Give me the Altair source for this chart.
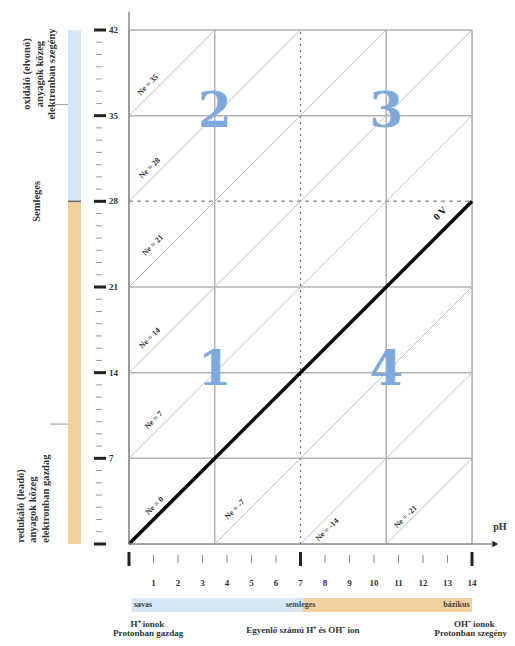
import altair as alt
import pandas as pd

# ---------------- data ----------------
ne_values = [35, 28, 21, 14, 7, 0, -7, -14, -21]
ne_x1 = [0, 0, 0, 0, 0, 0, 3.5, 7, 10.5]
ne_y1 = [35, 28, 21, 14, 7, 0, 0, 0, 0]
ne_x2 = [3.5, 7, 10.5, 14, 14, 14, 14, 14, 14]
ne_y2 = [42, 42, 42, 42, 35, 28, 21, 14, 7]
ne_lab_x = [0.78, 0.86, 0.98, 0.86, 1.02, 1.06, 4.33, 8.1, 11.3]
ne_lab_y = [37.5, 30.7, 24.4, 16.8, 10.1, 3.1, 2.8, 1.15, 2.2]

solid_v = [0, 3.5, 10.5, 14]
dashed_v = [7]
solid_h = [7, 14, 21, 35, 42]
dashed_h = [28]

y_major = [0, 7, 14, 21, 28, 35, 42]
y_minor = [1, 2, 3, 4, 5, 6, 8, 9, 10, 11, 12, 13, 15, 16, 17, 18, 19, 20,
           22, 23, 24, 25, 26, 27, 29, 30, 31, 32, 33, 34, 36, 37, 38, 39, 40, 41]
y_label_vals = [7, 14, 21, 28, 35, 42]
y_label_txt = ["7", "14", "21", "28", "35", "42"]

x_major = [0, 7, 14]
x_minor = [1, 2, 3, 4, 5, 6, 8, 9, 10, 11, 12, 13]
x_label_vals = [1, 2, 3, 4, 5, 6, 7, 8, 9, 10, 11, 12, 13, 14]
x_label_txt = ["1", "2", "3", "4", "5", "6", "7", "8", "9", "10", "11", "12", "13", "14"]

zone_names = ["redukáló", "oxidáló"]
zone_y1 = [0, 28]
zone_y2 = [28, 42]
ph_zone_names = ["savas", "lúgos"]
ph_zone_x1 = [0.1, 7.1]
ph_zone_x2 = [7.1, 14]

region_txt = ["1", "2", "3", "4"]
region_x = [3.5, 3.5, 10.5, 10.5]
region_y = [14.1, 35.2, 35.2, 14.1]

top_lines = ["oxidáló (elvonó)", "anyagok közeg", "elektronban szegény"]
mid_line = "Semleges"
bot_lines = ["redukáló (leadó)", "anyagok közeg", "elektronban gazdag"]
bar_words = ["savas", "semleges", "bázikus"]
bar_word_x = [0.2, 7.0, 13.9]
bottom_words = ["H⁺ ionok", "Protonban gazdag", "Egyenlő számú H⁺ és OH⁻ ion",
                "OH⁻ ionok", "Protonban szegény"]
bottom_word_x = [0.75, 0.78, 7.1, 14.1, 13.95]

BLUE = "#d6e8f5"
ORANGE = "#f0d19f"
NUM = "#7fa8dc"
TXT = "#333333"
FONT = "Liberation Serif"

xs = alt.Scale(domain=[0, 14], nice=False, zero=False)
ys = alt.Scale(domain=[0, 42], nice=False, zero=False)


def X(f):
    return alt.X(f, type="quantitative", scale=xs, axis=None)


def Y(f):
    return alt.Y(f, type="quantitative", scale=ys, axis=None)


# grid
grid = pd.DataFrame(
    [{"x1": v, "x2": v, "y1": 0, "y2": 42} for v in solid_v]
    + [{"x1": 0, "x2": 14, "y1": h, "y2": h} for h in solid_h]
)
grid_l = alt.Chart(grid).mark_rule(color="#b3b3b3", strokeWidth=1.5).encode(
    x=X("x1"), x2="x2", y=Y("y1"), y2="y2")

dv = pd.DataFrame([{"x1": v, "x2": v, "y1": 0, "y2": 42} for v in dashed_v])
dv_l = alt.Chart(dv).mark_rule(color="#777777", strokeWidth=1.3, strokeDash=[2, 4]).encode(
    x=X("x1"), x2="x2", y=Y("y1"), y2="y2")
dh = pd.DataFrame([{"x1": 0, "x2": 14, "y1": h, "y2": h} for h in dashed_h])
dh_l = alt.Chart(dh).mark_rule(color="#999999", strokeWidth=1.5, strokeDash=[4, 4]).encode(
    x=X("x1"), x2="x2", y=Y("y1"), y2="y2")

ne = pd.DataFrame({"nev": ne_values, "x1": ne_x1, "y1": ne_y1, "x2": ne_x2, "y2": ne_y2,
                   "lx": ne_lab_x, "ly": ne_lab_y})
ne["label"] = ["Ne = " + str(v) for v in ne_values]
diag_l = alt.Chart(ne[ne["nev"] != 0]).mark_rule(color="#bdbdbd", strokeWidth=1).encode(
    x=X("x1"), x2="x2", y=Y("y1"), y2="y2")
bold_l = alt.Chart(ne[ne["nev"] == 0]).mark_rule(color="#000000", strokeWidth=3.5).encode(
    x=X("x1"), x2="x2", y=Y("y1"), y2="y2")
ne_lab = alt.Chart(ne).mark_text(angle=315, font=FONT, fontWeight="bold", fontSize=8,
                                 color=TXT).encode(x=X("lx"), y=Y("ly"), text="label")
zero_lab = alt.Chart(pd.DataFrame({"x": [12.7], "y": [27.0], "t": ["0 V"]})).mark_text(
    angle=315, font=FONT, fontWeight="bold", fontSize=10, color="#111111").encode(
    x=X("x"), y=Y("y"), text="t")

# axes lines
axes = pd.DataFrame([{"x1": 0, "x2": 14.9, "y1": 0, "y2": 0},
                     {"x1": 0, "x2": 0, "y1": 0, "y2": 43.5}])
axes_l = alt.Chart(axes).mark_rule(color="#8c8c8c", strokeWidth=1.5).encode(
    x=X("x1"), x2="x2", y=Y("y1"), y2="y2")
arrow = alt.Chart(pd.DataFrame({"x": [14.95], "y": [0]})).mark_point(
    shape="triangle-right", filled=True, size=45, color="#222222", opacity=1).encode(
    x=X("x"), y=Y("y"))
ph_lab = alt.Chart(pd.DataFrame({"x": [15.14], "y": [1.4], "t": ["pH"]})).mark_text(
    font=FONT, fontWeight="bold", fontSize=10, color=TXT).encode(x=X("x"), y=Y("y"), text="t")

# region numbers
reg = pd.DataFrame({"t": region_txt, "x": region_x, "y": region_y})
reg_l = alt.Chart(reg).mark_text(font="DejaVu Serif", fontWeight="bold", fontSize=48,
                                 color=NUM, baseline="middle").encode(
    x=X("x"), y=Y("y"), text="t")

# left axis ticks / labels
ymaj = alt.Chart(pd.DataFrame({"v": y_major})).mark_rule(color="#222222", strokeWidth=3).encode(
    x=alt.value(-35), x2=alt.value(-23), y=Y("v"))
ymin = alt.Chart(pd.DataFrame({"v": y_minor})).mark_rule(color="#9a9a9a", strokeWidth=1).encode(
    x=alt.value(-33), x2=alt.value(-27), y=Y("v"))
ylab = alt.Chart(pd.DataFrame({"v": y_label_vals, "t": y_label_txt})).mark_text(
    align="left", baseline="middle", font=FONT, fontWeight="bold", fontSize=9, color=TXT).encode(
    x=alt.value(-20), y=Y("v"), text="t")

zones = pd.DataFrame({"z": zone_names, "y1": zone_y1, "y2": zone_y2})
zbar = alt.Chart(zones).mark_rect().encode(
    x=alt.value(-61), x2=alt.value(-48), y=Y("y1"), y2="y2",
    color=alt.Color("z:N", scale=alt.Scale(domain=zone_names, range=[ORANGE, BLUE]), legend=None))
zsep = alt.Chart(pd.DataFrame({"v": [28]})).mark_rule(color="#6b6b6b", strokeWidth=1.5).encode(
    x=alt.value(-61), x2=alt.value(-48), y=Y("v"))
conn1 = alt.Chart(pd.DataFrame({"v": [35.9]})).mark_rule(color="#9a9a9a", strokeWidth=1).encode(
    x=alt.value(-74), x2=alt.value(-61), y=Y("v"))
conn2 = alt.Chart(pd.DataFrame({"v": [9.8]})).mark_rule(color="#9a9a9a", strokeWidth=1).encode(
    x=alt.value(-79), x2=alt.value(-61), y=Y("v"))


def vtext(t, px, v, align):
    return alt.Chart(pd.DataFrame({"t": [t], "v": [v]})).mark_text(
        angle=270, align=align, baseline="middle", font=FONT, fontWeight="bold",
        fontSize=10.5, color=TXT).encode(x=alt.value(px), y=Y("v"), text="t")


left_layers = []
for t, px in zip(top_lines, [-102, -89, -77]):
    left_layers.append(vtext(t, px, 38.4, "center"))
left_layers.append(vtext(mid_line, -92, 28.0, "center"))
for t, px in zip(bot_lines, [-108, -96, -83]):
    left_layers.append(vtext(t, px, 0.1, "left"))

# bottom axis ticks / labels
xmaj = alt.Chart(pd.DataFrame({"v": x_major})).mark_rule(color="#222222", strokeWidth=3).encode(
    x=X("v"), y=alt.value(522), y2=alt.value(536))
xmin = alt.Chart(pd.DataFrame({"v": x_minor})).mark_rule(color="#8a8a8a", strokeWidth=1).encode(
    x=X("v"), y=alt.value(525), y2=alt.value(533))
xlab = alt.Chart(pd.DataFrame({"v": x_label_vals, "t": x_label_txt})).mark_text(
    baseline="middle", font=FONT, fontWeight="bold", fontSize=9, color=TXT).encode(
    x=X("v"), y=alt.value(553), text="t")

phz = pd.DataFrame({"z": ph_zone_names, "x1": ph_zone_x1, "x2": ph_zone_x2})
pbar = alt.Chart(phz).mark_rect().encode(
    x=X("x1"), x2="x2", y=alt.value(568), y2=alt.value(582),
    color=alt.Color("z:N", scale=alt.Scale(domain=ph_zone_names, range=[BLUE, ORANGE]), legend=None))


def htext(t, x, py, align="center", size=8.5, color=TXT):
    return alt.Chart(pd.DataFrame({"t": [t], "x": [x]})).mark_text(
        align=align, baseline="middle", font=FONT, fontWeight="bold", fontSize=size,
        color=color).encode(x=X("x"), y=alt.value(py), text="t")


bottom_layers = []
for t, x, al in zip(bar_words, bar_word_x, ["left", "center", "right"]):
    bottom_layers.append(htext(t, x, 575, al, 8, "#444444"))
for t, x, py in zip(bottom_words, bottom_word_x, [594, 603, 600, 594, 603]):
    bottom_layers.append(htext(t, x, py, size=9))

chart = alt.layer(
    zbar, pbar, grid_l, dv_l, dh_l, diag_l, bold_l, axes_l, arrow, ne_lab, zero_lab, ph_lab,
    reg_l, ymaj, ymin, ylab, zsep, conn1, conn2, *left_layers, xmaj, xmin, xlab, *bottom_layers
).resolve_scale(color="independent").properties(
    width=343, height=514,
    autosize=alt.AutoSizeParams(type="none"),
    padding={"left": 121, "top": 22, "right": 35, "bottom": 94},
).configure_view(stroke=None).configure(background="white")

chart.save("out.html", embed_options={"renderer": "svg", "actions": False})
